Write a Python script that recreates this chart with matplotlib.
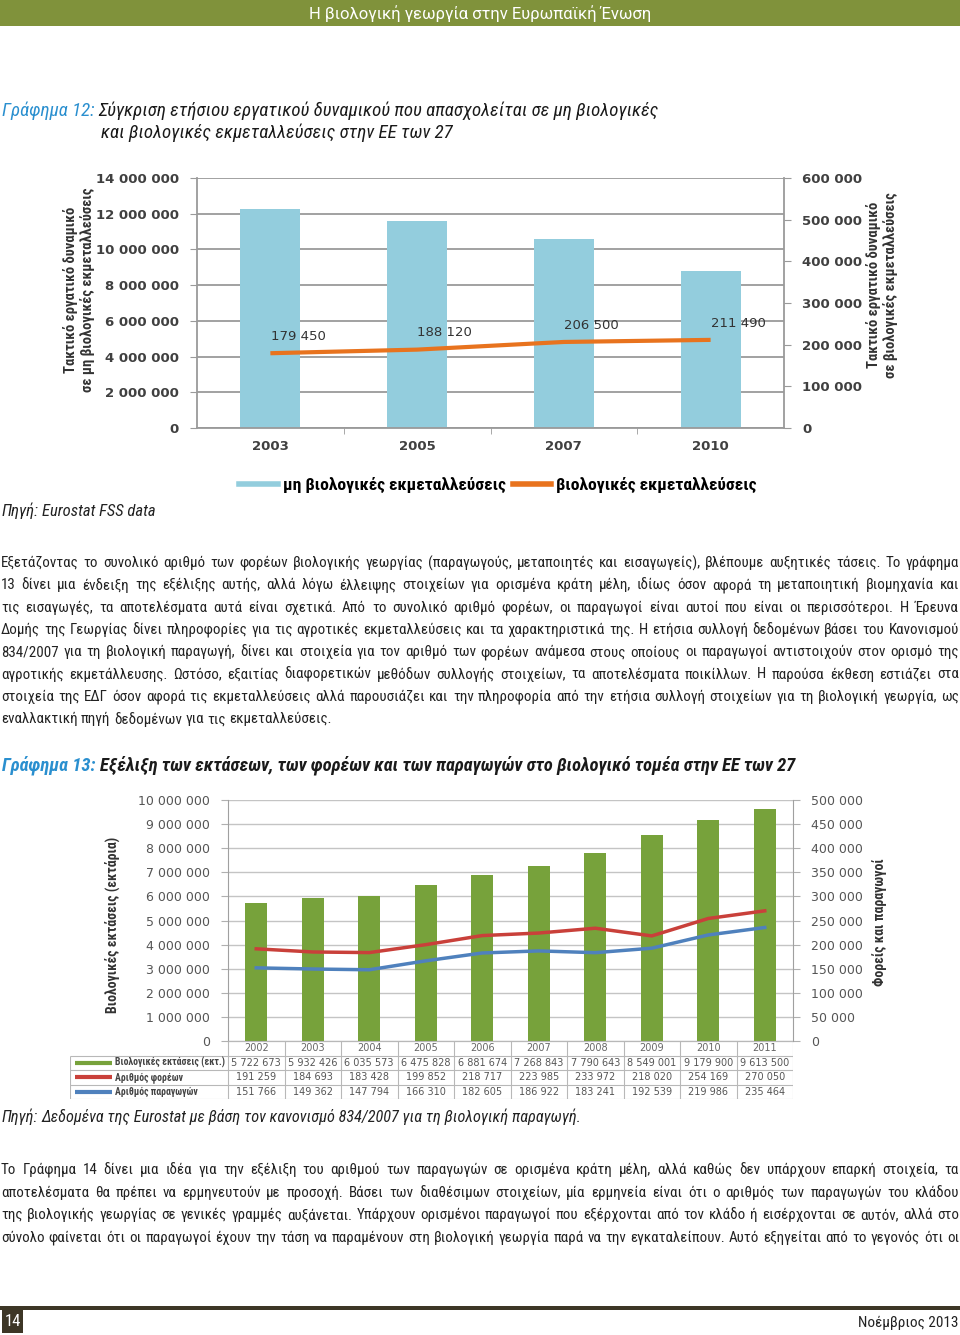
import matplotlib
matplotlib.use('Agg')
import matplotlib.pyplot as plt
from matplotlib import font_manager
from matplotlib.lines import Line2D
from matplotlib.patches import Rectangle

W, H = 960, 1335

# Chart 12 data
years1 = ['2003', '2005', '2007', '2010']
nonorganic_workers = [12250000, 11600000, 10580000, 8800000]
organic_workers = [179450, 188120, 206500, 211490]

# Chart 13 data
years2 = ['2002', '2003', '2004', '2005', '2006', '2007', '2008', '2009', '2010', '2011']
organic_area = [5722673, 5932426, 6035573, 6475828, 6881674, 7268843, 7790643, 8549001, 9179900, 9613500]
operators = [191259, 184693, 183428, 199852, 218717, 223985, 233972, 218020, 254169, 270050]
producers = [151766, 149362, 147794, 166310, 182605, 186922, 183241, 192539, 219986, 235464]
row_labels = ['Βιολογικές εκτάσεις (εκτ.)', 'Αριθμός φορέων', 'Αριθμός παραγωγών']

para1 = [
    "Εξετάζοντας το συνολικό αριθμό των φορέων βιολογικής γεωργίας (παραγωγούς, μεταποιητές και εισαγωγείς), βλέπουμε αυξητικές τάσεις. Το γράφημα",
    "13 δίνει μια ένδειξη της εξέλιξης αυτής, αλλά λόγω έλλειψης στοιχείων για ορισμένα κράτη μέλη, ιδίως όσον αφορά τη μεταποιητική βιομηχανία και",
    "τις εισαγωγές, τα αποτελέσματα αυτά είναι σχετικά. Από το συνολικό αριθμό φορέων, οι παραγωγοί είναι αυτοί που είναι οι περισσότεροι. Η Έρευνα",
    "Δομής της Γεωργίας δίνει πληροφορίες για τις αγροτικές εκμεταλλεύσεις και τα χαρακτηριστικά της. Η ετήσια συλλογή δεδομένων βάσει του Κανονισμού",
    "834/2007 για τη βιολογική παραγωγή, δίνει και στοιχεία για τον αριθμό των φορέων ανάμεσα στους οποίους οι παραγωγοί αντιστοιχούν στον ορισμό της",
    "αγροτικής εκμετάλλευσης. Ωστόσο, εξαιτίας διαφορετικών μεθόδων συλλογής στοιχείων, τα αποτελέσματα ποικίλλων. Η παρούσα έκθεση εστιάζει στα",
    "στοιχεία της ΕΔΓ όσον αφορά τις εκμεταλλεύσεις αλλά παρουσιάζει και την πληροφορία από την ετήσια συλλογή στοιχείων για τη βιολογική γεωργία, ως",
    "εναλλακτική πηγή δεδομένων για τις εκμεταλλεύσεις.",
]
para2 = [
    "Το Γράφημα 14 δίνει μια ιδέα για την εξέλιξη του αριθμού των παραγωγών σε ορισμένα κράτη μέλη, αλλά καθώς δεν υπάρχουν επαρκή στοιχεία, τα",
    "αποτελέσματα θα πρέπει να ερμηνευτούν με προσοχή. Βάσει των διαθέσιμων στοιχείων, μία ερμηνεία είναι ότι ο αριθμός των παραγωγών του κλάδου",
    "της βιολογικής γεωργίας σε γενικές γραμμές αυξάνεται. Υπάρχουν ορισμένοι παραγωγοί που εξέρχονται από τον κλάδο ή εισέρχονται σε αυτόν, αλλά στο",
    "σύνολο φαίνεται ότι οι παραγωγοί έχουν την τάση να παραμένουν στη βιολογική γεωργία παρά να την εγκαταλείπουν. Αυτό εξηγείται από το γεγονός ότι οι",
]

avail = {f.name for f in font_manager.fontManager.ttflist}
NARROW = next((f for f in ['Liberation Sans Narrow', 'Roboto Condensed', 'Open Sans Condensed']
               if f in avail), 'Liberation Sans')
plt.rcParams['font.family'] = ['DejaVu Sans']
NF = [NARROW, 'DejaVu Sans']

OLIVE = '#80923b'
BLUE_T = '#2a8fcf'
LBLUE = '#93cddd'
ORANGE = '#e8731e'
GREEN = '#77a23b'
RED = '#c9403a'
BLUE = '#4f81bd'
DARK = '#3d3626'
GRID = '#9a9a9a'


def fx(x):
    return x / W


def fy(y):
    return 1 - y / H


def rect(l, t, r, b):
    return [l / W, 1 - b / H, (r - l) / W, (b - t) / H]


def fmt(v):
    return f"{int(v):,}".replace(',', ' ')


fig = plt.figure(figsize=(W / 100, H / 100), dpi=100)
fig.patch.set_facecolor('white')
renderer = fig.canvas.get_renderer()


def width_of(t):
    return t.get_window_extent(renderer).width


# header band
fig.patches.append(Rectangle((0, fy(26)), 1, 26 / H, transform=fig.transFigure,
                             facecolor=OLIVE, edgecolor='none'))
fig.text(0.5, fy(14), 'Η βιολογική γεωργία στην Ευρωπαϊκή Ένωση', color='white',
         fontsize=12, family=['Roboto', 'DejaVu Sans'], ha='center', va='center')


def two_part(x, y, a, b, size, weight):
    t1 = fig.text(fx(x), fy(y), a, color=BLUE_T, fontsize=size, style='italic',
                  fontweight=weight, family=NF, va='center')
    w = width_of(t1)
    fig.text(fx(x + w + 4), fy(y), b, color='#1a1a1a', fontsize=size, style='italic',
             fontweight=weight, family=NF, va='center')


two_part(2, 111, 'Γράφημα 12:', 'Σύγκριση ετήσιου εργατικού δυναμικού που απασχολείται σε μη βιολογικές',
         13.6, 'normal')
fig.text(fx(101), fy(133), 'και βιολογικές εκμεταλλεύσεις στην ΕΕ των 27', color='#1a1a1a',
         fontsize=13.6, style='italic', family=NF, va='center')

two_part(2, 765, 'Γράφημα 13:', 'Εξέλιξη των εκτάσεων, των φορέων και των παραγωγών στο βιολογικό τομέα στην ΕΕ των 27',
         13.3, 'bold')

# ---------- chart 12 ----------
ax1 = fig.add_axes(rect(197, 178, 784, 428))
x1 = list(range(len(years1)))
ax1.bar(x1, nonorganic_workers, width=0.41, color=LBLUE, zorder=2)
ax1.set_xlim(-0.5, len(years1) - 0.5)
ax1.set_ylim(0, 14000000)
ax1.set_yticks(range(0, 14000001, 2000000))
ax1.set_yticklabels([fmt(v) for v in range(0, 14000001, 2000000)])
ax1.set_xticks(x1)
ax1.set_xticklabels(years1)
ax1.set_xticks([i + 0.5 for i in x1[:-1]], minor=True)
ax1.tick_params(axis='x', which='major', length=0, pad=9)
ax1.tick_params(axis='x', which='minor', length=4, color=GRID, direction='out')
ax1.tick_params(axis='y', length=5, color=GRID, pad=8)
ax1.grid(axis='y', color=GRID, lw=1.3, zorder=0)
for s in ['left', 'bottom']:
    ax1.spines[s].set_color(GRID)
    ax1.spines[s].set_linewidth(1.3)
ax1.spines['top'].set_visible(False)
ax1.spines['right'].set_visible(False)
for lab in ax1.get_xticklabels() + ax1.get_yticklabels():
    lab.set_fontsize(9.5)
    lab.set_fontweight('bold')
    lab.set_color('#404040')

ax1r = ax1.twinx()
ax1r.plot(x1, organic_workers, color=ORANGE, lw=3, solid_capstyle='butt', zorder=3)
ax1r.set_ylim(0, 600000)
ax1r.set_yticks(range(0, 600001, 100000))
ax1r.set_yticklabels([fmt(v) for v in range(0, 600001, 100000)])
ax1r.tick_params(axis='y', length=5, color=GRID, pad=8)
ax1r.spines['right'].set_color(GRID)
ax1r.spines['right'].set_linewidth(1.3)
for s in ['left', 'top', 'bottom']:
    ax1r.spines[s].set_visible(False)
for lab in ax1r.get_yticklabels():
    lab.set_fontsize(9.5)
    lab.set_fontweight('bold')
    lab.set_color('#404040')
for xi, v in zip(x1, organic_workers):
    ax1r.annotate(fmt(v), (xi, v), xytext=(20, 12), textcoords='offset points',
                  ha='center', va='center', fontsize=9.5, color='#333333', fontweight='medium')

fig.text(fx(79), fy(290), 'Τακτικό εργατικό δυναμικό\nσε μη βιολογικές εκμεταλλεύσεις',
         rotation=90, ha='center', va='center', fontsize=10.5, fontweight='bold',
         family=NF, color='#333333', linespacing=1.1)
fig.text(fx(882), fy(285), 'Τακτικό εργατικό δυναμικό\nσε βιολογικές εκμεταλλεύσεις',
         rotation=90, ha='center', va='center', fontsize=10.5, fontweight='bold',
         family=NF, color='#333333', linespacing=1.1)

handles1 = [Line2D([], [], color=LBLUE, lw=4), Line2D([], [], color=ORANGE, lw=4)]
fig.legend(handles1, ['μη βιολογικές εκμεταλλεύσεις', 'βιολογικές εκμεταλλεύσεις'],
           loc='center', bbox_to_anchor=(fx(498), fy(485)), ncol=2, frameon=False,
           handlelength=2.2, handletextpad=0.3, columnspacing=0.4,
           prop={'family': NF, 'weight': 'bold', 'size': 12.6})

src1a = fig.text(fx(2), fy(511), 'Πηγή:', style='italic', fontsize=12,
                 family=NF, color='#222222', va='center')
fig.text(fx(2 + width_of(src1a) + 3), fy(511), 'Eurostat FSS data', style='italic', fontsize=12,
         family=NF, color='#222222', va='center')

# ---------- paragraphs (justified) ----------
PSIZE = 12.6
natural = 0
for ln in para1 + para2:
    tmp = fig.text(0, 0, ln, fontsize=PSIZE, family=NF)
    natural = max(natural, width_of(tmp))
    tmp.remove()
if natural > 948:
    PSIZE = PSIZE * 948 / natural
space_t = fig.text(0, 0, 'a a', fontsize=PSIZE, family=NF)
aa_t = fig.text(0, 0, 'aa', fontsize=PSIZE, family=NF)
SPACE = width_of(space_t) - width_of(aa_t)
space_t.remove()
aa_t.remove()


def justified(y, line, justify=True, x0=1, x1=959):
    words = line.split(' ')
    ts = [fig.text(0, fy(y), w, fontsize=PSIZE, family=NF,
                   color='#222222', va='center') for w in words]
    ws = [width_of(t) for t in ts]
    if justify and len(words) > 1:
        gap = (x1 - x0 - sum(ws)) / (len(words) - 1)
    else:
        gap = SPACE
    x = x0
    for t, w in zip(ts, ws):
        t.set_x(fx(x))
        x += w + gap


for i, ln in enumerate(para1):
    justified(563 + i * 22.3, ln, justify=i < len(para1) - 1)
for i, ln in enumerate(para2):
    justified(1170 + i * 22.6, ln)

# ---------- chart 13 ----------
ax2 = fig.add_axes(rect(228, 800, 793, 1041))
x2 = list(range(len(years2)))
ax2.bar(x2, organic_area, width=0.39, color=GREEN, zorder=2)
ax2.set_xlim(-0.5, len(years2) - 0.5)
ax2.set_ylim(0, 10000000)
ax2.set_yticks(range(0, 10000001, 1000000))
ax2.set_yticklabels([fmt(v) for v in range(0, 10000001, 1000000)])
ax2.set_xticks([])
ax2.tick_params(axis='y', length=5, color='#b0b0b0', pad=8)
ax2.grid(axis='y', color='#c4c4c4', lw=1, zorder=0)
for s in ['left', 'bottom']:
    ax2.spines[s].set_color('#a0a0a0')
ax2.spines['top'].set_visible(False)
ax2.spines['right'].set_visible(False)
for lab in ax2.get_yticklabels():
    lab.set_fontsize(9)
    lab.set_color('#555555')

ax2r = ax2.twinx()
ax2r.plot(x2, operators, color=RED, lw=2.5, zorder=3)
ax2r.plot(x2, producers, color=BLUE, lw=2.5, zorder=3)
ax2r.set_ylim(0, 500000)
ax2r.set_yticks(range(0, 500001, 50000))
ax2r.set_yticklabels([fmt(v) for v in range(0, 500001, 50000)])
ax2r.tick_params(axis='y', length=5, color='#b0b0b0', pad=8)
ax2r.spines['right'].set_color('#a0a0a0')
for s in ['left', 'top', 'bottom']:
    ax2r.spines[s].set_visible(False)
for lab in ax2r.get_yticklabels():
    lab.set_fontsize(9)
    lab.set_color('#555555')

fig.text(fx(112), fy(925), 'Βιολογικές εκτάσεις (εκτάρια)', rotation=90, ha='center', va='center',
         fontsize=10, fontweight='bold', family=NF, color='#333333')
fig.text(fx(880), fy(922), 'Φορείς και παραγωγοί', rotation=90, ha='center', va='center',
         fontsize=10, fontweight='bold', family=NF, color='#333333')

# data table under chart 13
cat_px = (793 - 228) / len(years2)
left_ext = -0.5 - (228 - 70) / cat_px
axt = fig.add_axes(rect(70, 1041, 793, 1099))
axt.set_xlim(left_ext, len(years2) - 0.5)
axt.set_ylim(4, 0)
axt.axis('off')
tcol = '#b8b8b8'
axt.hlines(0, -0.5, len(years2) - 0.5, color=tcol, lw=0.8)
for r in range(1, 5):
    axt.hlines(r, left_ext, len(years2) - 0.5, color=tcol, lw=0.8)
axt.vlines([i - 0.5 for i in range(len(years2) + 1)], 0, 4, color=tcol, lw=0.8)
axt.vlines(left_ext, 1, 4, color=tcol, lw=0.8)
for i, yr in enumerate(years2):
    axt.text(i, 0.5, yr, ha='center', va='center', fontsize=7, color='#666666')
series = [organic_area, operators, producers]
keys = [GREEN, RED, BLUE]
key_w = (112 - 75) / cat_px
for r, (vals, col, lab) in enumerate(zip(series, keys, row_labels)):
    yy = r + 1.5
    axt.plot([left_ext + 5 / cat_px, left_ext + 5 / cat_px + key_w], [yy, yy], color=col, lw=3,
             solid_capstyle='butt')
    axt.text(left_ext + 45 / cat_px, yy, lab, ha='left', va='center', fontsize=7,
             fontweight='bold', color='#444444', family=NF)
    for i, v in enumerate(vals):
        axt.text(i, yy, fmt(v), ha='center', va='center', fontsize=7, color='#555555')

src2a = fig.text(fx(2), fy(1117), 'Πηγή:', style='italic', fontsize=11.7,
                 family=NF, color='#222222', va='center')
fig.text(fx(2 + width_of(src2a) + 3), fy(1117),
         'Δεδομένα της Eurostat με βάση τον κανονισμό 834/2007 για τη βιολογική παραγωγή.',
         style='italic', fontsize=11.7, family=NF, color='#222222', va='center')

# footer
fig.patches.append(Rectangle((0, fy(1310)), 1, 4 / H, transform=fig.transFigure,
                             facecolor=DARK, edgecolor='none'))
fig.patches.append(Rectangle((fx(2), fy(1333)), 21 / W, 27 / H, transform=fig.transFigure,
                             facecolor=DARK, edgecolor='none'))
fig.text(fx(12.5), fy(1321), '14', color='white', fontsize=12, ha='center', va='center',
         family=NF)
fig.text(fx(958), fy(1323), 'Νοέμβριος 2013', color='#222222', fontsize=11, ha='right', va='center',
         family=NF)

fig.savefig('out.png', dpi=100, facecolor='white')
